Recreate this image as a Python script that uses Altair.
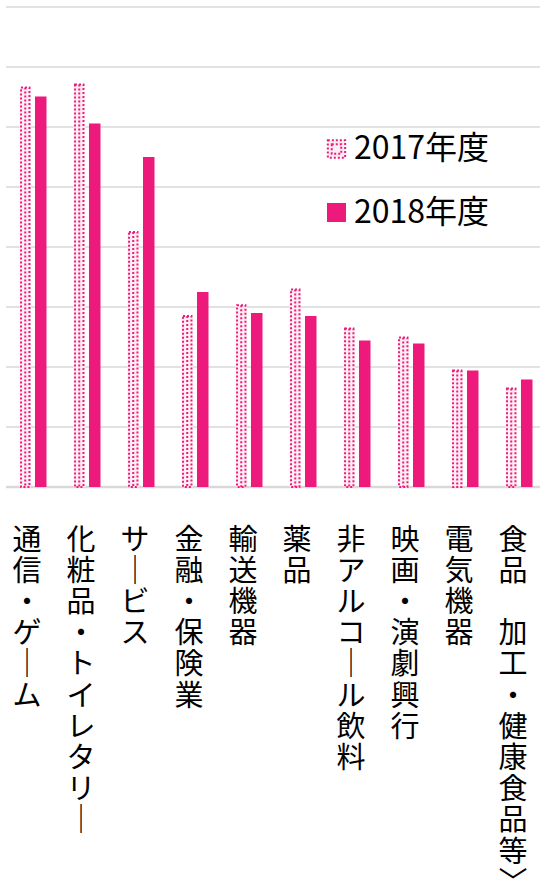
import altair as alt
import pandas as pd

categories = ["通信・ゲーム", "化粧品・トイレタリー", "サービス", "金融・保険業", "輸送機器",
              "薬品", "非アルコール飲料", "映画・演劇興行", "電気機器", "食品　加工・健康食品等〉"]
years = ["2017年度", "2018年度"]
values_2017 = [6.66, 6.71, 4.25, 2.85, 3.03, 3.29, 2.64, 2.49, 1.94, 1.64]
values_2018 = [6.51, 6.06, 5.50, 3.25, 2.90, 2.85, 2.44, 2.39, 1.94, 1.79]
grid_values = [0, 1, 2, 3, 4, 5, 6, 7, 8]

rows = []
for c, a, b in zip(categories, values_2017, values_2018):
    rows.append({"cat": c, "year": years[0], "value": a})
    rows.append({"cat": c, "year": years[1], "value": b})
df = pd.DataFrame(rows)

PINK = "#ee1a7b"
LIGHT = "#fdeef4"
GRID = "#d9d9d9"
FONT = "Noto Sans CJK JP"

yscale = alt.Scale(domain=[0, 8], nice=False, zero=True)

# vertical-writing display: prolonged sound mark -> vertical bar, closing bracket -> vertical form,
# ideographic space kept as an (untrimmed) empty line
label_expr = ("split(replace(replace(replace(datum.label, regexp('ー','g'), '｜'), '〉', '﹀'), '　', '\u200b'), '')")
x_enc = alt.X("cat:N", sort=categories,
              scale=alt.Scale(paddingInner=0, paddingOuter=0),
              axis=alt.Axis(title=None, domain=False, ticks=False, grid=False,
                            labelAngle=0, labelAlign="center", labelBaseline="top",
                            labelPadding=39, labelFont=FONT, labelFontSize=29,
                            labelLineHeight=31.2, labelColor="#000000", labelLimit=0,
                            labelOverlap=False, labelExpr=label_expr))
xoff = alt.XOffset("year:N", sort=years,
                   scale=alt.Scale(domain=years, paddingInner=0.258,
                                   paddingOuter=0.871, align=0.722))

base = alt.Chart(df)

grid = alt.Chart(pd.DataFrame({"v": grid_values})).mark_rule(color=GRID).encode(
    y=alt.Y("v:Q", scale=yscale, axis=None),
    x=alt.value(6), x2=alt.value(540),
    strokeWidth=alt.condition(alt.datum.v == 0, alt.value(2.5), alt.value(1.5)),
)

y_enc = alt.Y("value:Q", scale=yscale, axis=None)

bars18 = base.transform_filter(alt.datum.year == years[1]).mark_bar(color=PINK).encode(
    x=x_enc, xOffset=xoff, y=y_enc)
bars17_bg = base.transform_filter(alt.datum.year == years[0]).mark_bar(color=LIGHT).encode(
    x=x_enc, xOffset=xoff, y=y_enc)
bars17_outline = base.transform_filter(alt.datum.year == years[0]).mark_bar(
    width=8.4, fillOpacity=0, stroke=PINK, strokeWidth=2, strokeDash=[2, 2]).encode(
    x=x_enc, xOffset=xoff, y=y_enc)
bars17_center = base.transform_filter(alt.datum.year == years[0]).mark_rule(
    color=PINK, strokeWidth=2, strokeDash=[2, 2]).encode(
    x=x_enc, xOffset=xoff, y=y_enc, y2=alt.datum(0))

plot = alt.layer(grid, bars17_bg, bars17_outline, bars17_center, bars18)

leg_df = pd.DataFrame({"year": years})
leg_y = alt.Y("year:N", sort=years,
              scale=alt.Scale(type="point", domain=years, range=[142, 205.5], padding=0),
              axis=None)
leg = alt.Chart(leg_df)
sw18 = leg.transform_filter(alt.datum.year == years[1]).mark_square(
    size=361, color=PINK, opacity=1).encode(x=alt.value(336.5), y=leg_y)
sw17a = leg.transform_filter(alt.datum.year == years[0]).mark_square(
    size=300, fill=LIGHT, stroke=PINK, strokeWidth=2, strokeDash=[2, 2], opacity=1).encode(
    x=alt.value(336.5), y=leg_y)
sw17b = leg.transform_filter(alt.datum.year == years[0]).mark_square(
    size=90, fillOpacity=0, stroke=PINK, strokeWidth=2, strokeDash=[2, 2]).encode(
    x=alt.value(336.5), y=leg_y)
leg_text = leg.mark_text(align="left", baseline="middle", font=FONT, fontSize=32,
                         color="#000000").encode(x=alt.value(354), y=leg_y, text="year:N")
legend = alt.layer(sw17a, sw17b, sw18, leg_text)

chart = alt.layer(plot, legend).resolve_scale(y="independent").properties(
    width=540, height=480,
    autosize=alt.AutoSizeParams(type="none"),
    padding={"left": 0, "top": 7, "right": 0, "bottom": 398},
    background="white",
).configure_view(stroke=None)

chart.save("out.html", embed_options={"renderer": "svg", "actions": False})
